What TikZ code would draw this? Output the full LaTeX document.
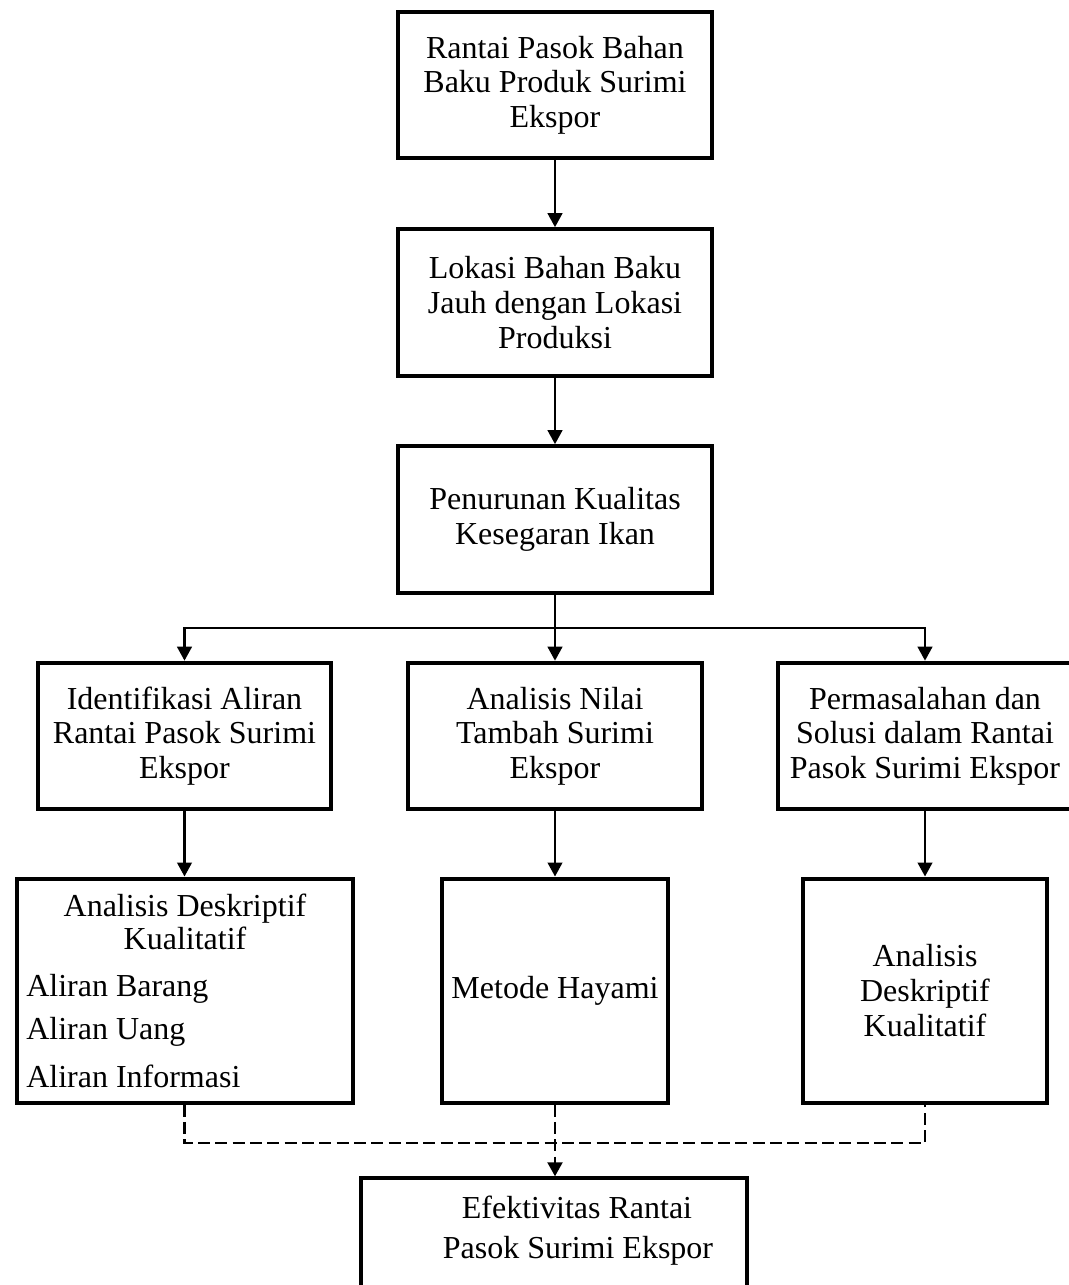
\documentclass[tikz,border=0pt]{standalone}
\usepackage{fontspec}
\setmainfont{Liberation Serif}
\usetikzlibrary{arrows.meta}

\begin{document}
\begin{tikzpicture}[x=0.75pt,y=0.75pt,yscale=-1,xscale=1,
    kotak/.style={draw, line width=3pt, inner sep=0pt, align=center, font=\fontsize{24}{26}\selectfont},
    teks/.style={inner sep=0pt, font=\fontsize{24}{26}\selectfont},
    panah/.style={line width=1.7pt, -{Triangle[length=10.5pt,width=11pt]}},
    garis/.style={line width=1.7pt},
    putus/.style={line width=2.2pt, dash pattern=on 9pt off 4pt}]
    \useasboundingbox (0,0) rectangle (1068,1285);

    %Shape: Rectangle (alur utama)
    \node [kotak, minimum width=236pt, minimum height=110pt] (rantai) at (555,85) {Rantai Pasok Bahan\\Baku Produk Surimi\\Ekspor};
    \node [kotak, minimum width=236pt, minimum height=110pt] (lokasi) at (555,302.5) {Lokasi Bahan Baku\\Jauh dengan Lokasi\\Produksi};
    \node [kotak, minimum width=236pt, minimum height=110pt] (kualitas) at (555,519.5) {Penurunan Kualitas\\Kesegaran Ikan};
    %Shape: Rectangle (tujuan)
    \node [kotak, minimum width=220pt, minimum height=110pt] (identifikasi) at (184.5,736) {Identifikasi Aliran\\Rantai Pasok Surimi\\Ekspor};
    \node [kotak, minimum width=220pt, minimum height=110pt] (nilai) at (555,736) {Analisis Nilai\\Tambah Surimi\\Ekspor};
    \node [kotak, minimum width=220pt, minimum height=110pt] (masalah) at (925,736) {Permasalahan dan\\Solusi dalam Rantai\\Pasok Surimi Ekspor};
    %Shape: Rectangle (metode)
    \node [kotak, minimum width=252pt, minimum height=168pt] (deskriptif) at (184.5,990.5) {};
    \node [kotak, minimum width=170pt, minimum height=168pt] (hayami) at (555,990.5) {Metode Hayami};
    \node [kotak, minimum width=183pt, minimum height=168pt] (kualitatif) at (925,990.5) {Analisis\\Deskriptif\\Kualitatif};
    %Shape: Rectangle (hasil)
    \node [kotak, minimum width=289.5pt, minimum height=112pt] (efektivitas) at (554,1253) {};

    % Text Node
    \node [teks, anchor=base] (judulA) at (185,916) {Analisis Deskriptif};
    \node [teks, anchor=base] (judulB) at (185,949) {Kualitatif};
    \node [teks, anchor=base west] (barang) at (26,996) {Aliran Barang};
    \node [teks, anchor=base west] (uang) at (26,1039) {Aliran Uang};
    \node [teks, anchor=base west] (informasi) at (26,1087) {Aliran Informasi};
    % Text Node
    \node [teks, anchor=base] (efektifA) at (577,1218) {Efektivitas Rantai};
    \node [teks, anchor=base] (efektifB) at (578,1258) {Pasok Surimi Ekspor};

    \coordinate (cabang) at (555,628);
    \coordinate (gabung) at (555,1143);

    %Straight Lines
    \draw [panah] (rantai) -- (lokasi);
    \draw [panah] (lokasi) -- (kualitas);
    \draw [garis] (kualitas.south) -- (cabang);
    \draw [panah] (cabang) -| (identifikasi.north);
    \draw [panah] (cabang) -- (nilai.north);
    \draw [panah] (cabang) -| (masalah.north);
    \draw [panah] (identifikasi) -- (deskriptif);
    \draw [panah] (nilai) -- (hayami);
    \draw [panah] (masalah) -- (kualitatif);

    %Dashed Lines
    \draw [putus] (deskriptif.south) |- (gabung) -| (kualitatif.south);
    \draw [putus, -{Triangle[length=10.5pt,width=11pt]}] (hayami.south) -- (hayami.south |- efektivitas.north);
\end{tikzpicture}
\end{document}
